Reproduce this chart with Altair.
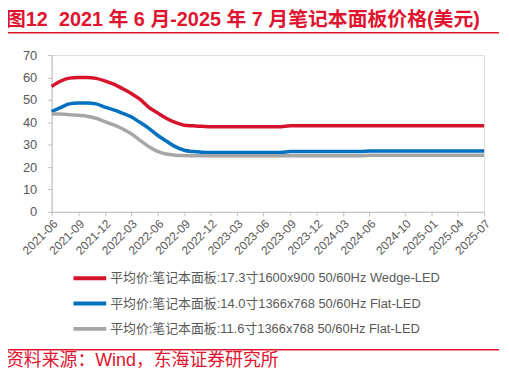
import altair as alt
import pandas as pd

months = [d.strftime("%Y-%m-01T00:00:00") for d in pd.date_range("2021-06-01", "2025-07-01", freq="MS")]

red = [56, 58.3, 59.7, 60, 60, 59.6, 58.5, 57, 55, 53, 50.3, 46.8, 44.2, 41.8, 39.9, 38.7, 38.4, 38.2, 38.0,
       38.0, 38.0, 38.0, 38.0, 38.0, 38.0, 38.0, 38.0,
       38.4, 38.4, 38.4, 38.4, 38.4, 38.4, 38.4, 38.4, 38.4, 38.4, 38.4, 38.4,
       38.4, 38.4, 38.4, 38.4, 38.4, 38.4, 38.4, 38.4, 38.4, 38.4, 38.4]
blue = [44.8, 46.5, 48.2, 48.6, 48.6, 48.2, 46.8, 45.5, 44, 42.5, 40, 37.4, 34.2, 31.6, 29.1, 27.5, 26.9, 26.6, 26.5,
        26.5, 26.5, 26.5, 26.5, 26.5, 26.5, 26.5, 26.5,
        26.9, 26.9, 26.9, 26.9, 26.9, 26.9, 26.9, 26.9, 26.9,
        27.2, 27.2, 27.2, 27.2, 27.2, 27.2, 27.2, 27.2, 27.2, 27.2, 27.2, 27.2, 27.2, 27.2]
gray = [43.7, 43.7, 43.4, 43.1, 42.7, 41.8, 40.3, 38.8, 37, 35, 32, 29.2, 27, 25.8, 25.3, 25.1, 25.0, 25.0, 25.0,
        25.0, 25.0, 25.0, 25.0, 25.0, 25.0, 25.0, 25.0,
        25.0, 25.0, 25.0, 25.0, 25.0, 25.0, 25.0, 25.0, 25.0,
        25.3, 25.3, 25.3, 25.3, 25.3, 25.3, 25.3, 25.3, 25.3, 25.3, 25.3, 25.3, 25.3, 25.3]

series_names = [
    "平均价:笔记本面板:17.3寸1600x900 50/60Hz Wedge-LED",
    "平均价:笔记本面板:14.0寸1366x768 50/60Hz Flat-LED",
    "平均价:笔记本面板:11.6寸1366x768 50/60Hz Flat-LED",
]
series_colors = ["#D7132B", "#0070C0", "#A6A6A6"]

tick_months = [(2021, 6), (2021, 9), (2021, 12), (2022, 3), (2022, 6), (2022, 9), (2022, 12),
               (2023, 3), (2023, 6), (2023, 9), (2023, 12), (2024, 3), (2024, 6), (2024, 10),
               (2025, 1), (2025, 4), (2025, 7)]

title_text = "图12\u00a0\u00a02021 年 6 月-2025 年 7 月笔记本面板价格(美元)"
source_text = "资料来源：Wind，东海证券研究所"

rows = []
for name, vals in zip(series_names, [red, blue, gray]):
    for m, v in zip(months, vals):
        rows.append({"date": m, "value": v, "series": name})
df = pd.DataFrame(rows)

FONT = "Liberation Sans, Arial, Noto Sans CJK SC"
W, H = 436, 158

lines = alt.Chart(df).mark_line(strokeWidth=3.5, interpolate="monotone").encode(
    x=alt.X("date:T",
            scale=alt.Scale(domain=[alt.DateTime(year=2021, month=6, date=1),
                                    alt.DateTime(year=2025, month=7, date=1)]),
            axis=alt.Axis(values=[alt.DateTime(year=y, month=m, date=1) for y, m in tick_months],
                          format="%Y-%m", labelAngle=-45, title=None, grid=False,
                          labelFontSize=12, labelColor="#595959", labelFont=FONT,
                          domainColor="#BFBFBF", tickColor="#BFBFBF", tickSize=4,
                          labelPadding=2, labelOverlap=False)),
    y=alt.Y("value:Q",
            scale=alt.Scale(domain=[0, 70], nice=False),
            axis=alt.Axis(values=list(range(0, 71, 10)), title=None, grid=False,
                          labelFontSize=13, labelColor="#595959", labelFont=FONT,
                          domainColor="#BFBFBF", tickColor="#BFBFBF", tickSize=4,
                          labelPadding=11)),
    color=alt.Color("series:N",
                    scale=alt.Scale(domain=series_names, range=series_colors),
                    legend=alt.Legend(orient="none", legendX=20, legendY=218, title=None,
                                      symbolType="M-1,0H5.6", symbolSize=100, symbolStrokeWidth=4,
                                      labelFontSize=13, labelColor="#595959", labelFont=FONT,
                                      labelLimit=500, rowPadding=9.5, labelOffset=25)),
    order=alt.Order("series:N"),
)

one = pd.DataFrame({"a": [0]})
RED = "#E0142F"

title = alt.Chart(one).mark_text(text=title_text, align="left", baseline="middle",
                                 fontSize=20, fontWeight="bold", color=RED, font=FONT).encode(
    x=alt.value(-46), y=alt.value(-35.5))
top_rule = alt.Chart(one).mark_rule(color=RED, strokeWidth=1.5).encode(
    x=alt.value(-47), x2=alt.value(451), y=alt.value(-22.5))
bottom_rule = alt.Chart(one).mark_rule(color=RED, strokeWidth=1.5).encode(
    x=alt.value(-47), x2=alt.value(451), y=alt.value(297))
source = alt.Chart(one).mark_text(text=source_text, align="left", baseline="middle",
                                  fontSize=18, color=RED, font=FONT).encode(
    x=alt.value(-46), y=alt.value(308))

chart = alt.layer(lines, title, top_rule, bottom_rule, source).properties(
    width=W, height=H,
    autosize=alt.AutoSizeParams(type="none"),
    padding={"left": 44, "top": 46, "right": 17, "bottom": 160},
).configure_view(stroke=None).configure(background="white")

chart.save("out.html", embed_options={"renderer": "svg", "actions": False})
